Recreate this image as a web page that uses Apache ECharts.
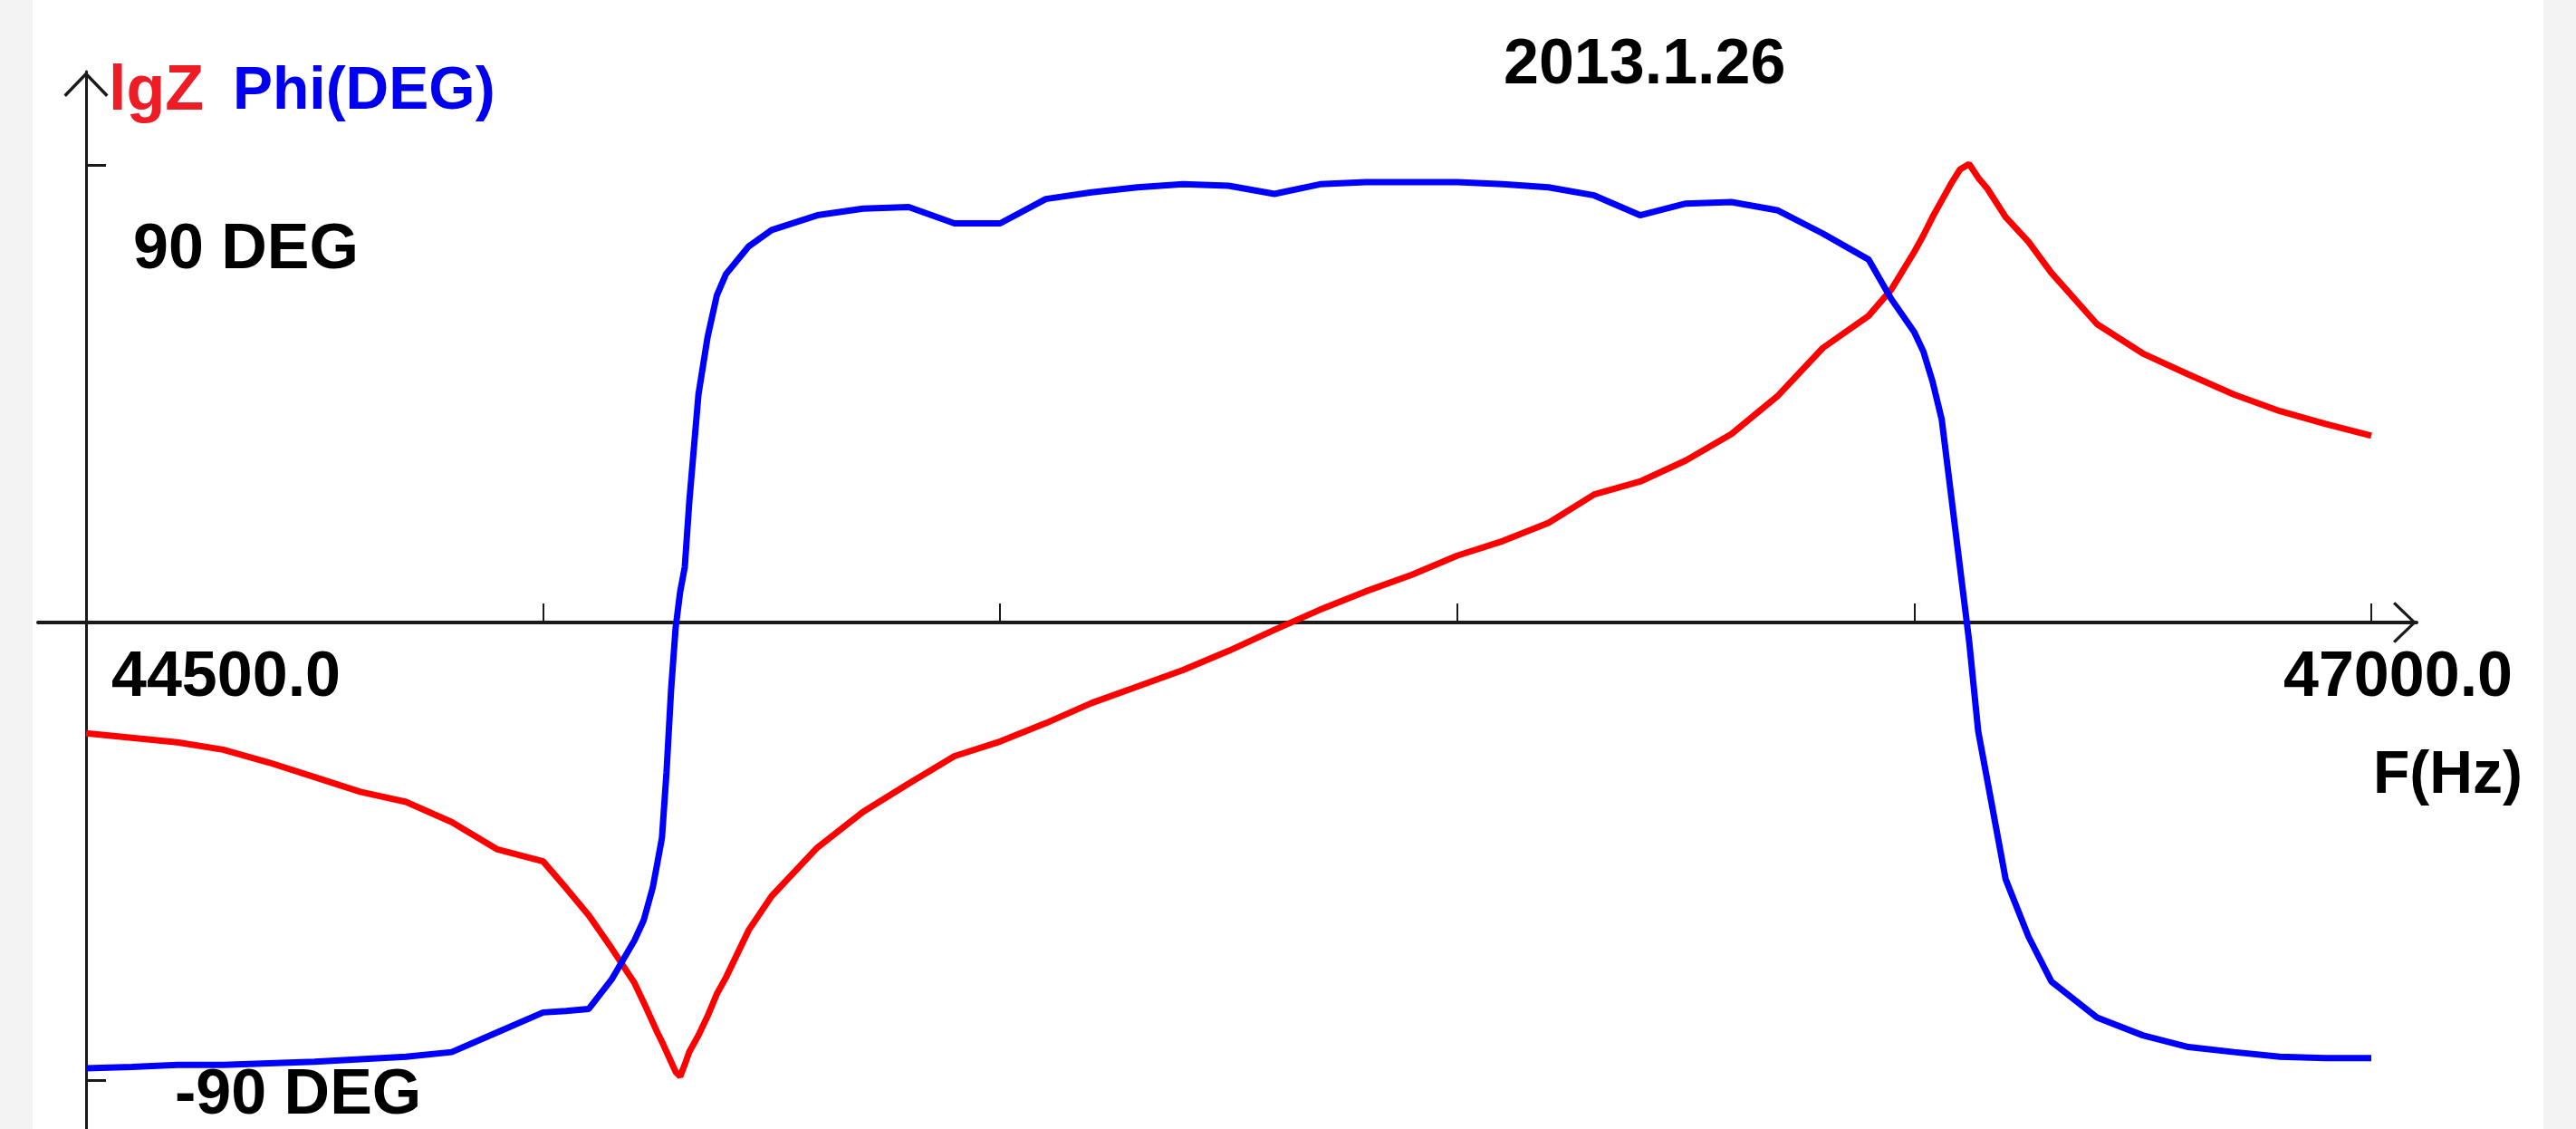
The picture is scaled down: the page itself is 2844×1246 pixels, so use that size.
<!DOCTYPE html>
<html>
<head>
<meta charset="utf-8">
<script src="https://cdn.jsdelivr.net/npm/echarts@6/dist/echarts.min.js"></script>
<style>
html,body{margin:0;padding:0;background:#ffffff;}
#chart{width:2844px;height:1246px;}
</style>
</head>
<body>
<div id="chart"></div>
<script>
// ---------------- data ----------------
const freqHz = [
  44500,44550,44600,44650,44700,44750,44800,44850,44900,44950,
  45000,45025,45050,45075,45100,45110,45120,45125,45130,45135,
  45140,45145,45150,45155,45160,45170,45180,45190,45200,45225,
  45250,45300,45350,45400,45450,45500,45550,45600,45650,45700,
  45750,45800,45850,45900,45950,46000,46050,46100,46150,46200,
  46250,46300,46350,46400,46450,46475,46500,46510,46520,46530,
  46540,46550,46560,46570,46580,46600,46625,46650,46700,46750,
  46800,46850,46900,46950,47000
];
// phase in degrees (blue)
const phiDeg = [
  -87.7,-87.4,-87.0,-87.0,-86.7,-86.4,-85.9,-85.4,-84.5,-80.6,
  -76.7,-76.4,-76.0,-70.2,-62.5,-58.6,-52.1,-47.3,-42.4,-29.5,
  -13.3,-1.0,6.1,10.9,23.9,44.9,56.2,64.3,68.5,74.0,
  77.2,80.1,81.4,81.7,78.5,78.5,83.3,84.6,85.6,86.2,
  85.9,84.3,86.2,86.6,86.6,86.6,86.2,85.6,84.0,80.1,
  82.4,82.7,81.1,76.5,71.4,63.6,57.1,53.3,47.4,40.0,
  25.5,10.9,-3.6,-21.4,-31.1,-50.5,-61.8,-70.6,-77.7,-81.2,
  -83.5,-84.5,-85.4,-85.7,-85.7
];
// lgZ, relative scale: 0 = level of the -90 DEG tick, 100 = level of the 90 DEG tick (red)
const lgZRel = [
  37.9,37.4,36.9,36.1,34.7,33.1,31.5,30.4,28.2,25.2,
  23.9,21.0,18.0,14.4,10.6,8.5,6.3,5.2,4.2,3.1,
  2.0,0.9,0.4,1.7,3.1,4.9,7.0,9.4,11.2,16.4,
  20.1,25.4,29.3,32.4,35.4,37.0,39.0,41.2,43.0,44.8,
  46.9,49.2,51.4,53.4,55.2,57.3,58.9,60.9,64.0,65.4,
  67.7,70.6,74.7,80.0,83.5,86.4,90.5,92.3,94.3,96.1,
  97.9,99.5,100.1,98.6,97.4,94.3,91.6,88.2,82.6,79.4,
  77.1,74.9,73.1,71.7,70.4
];
const xTickValues = [44500,45000,45500,46000,46500,47000];
const xLabelValues = [44500,47000];
const yTickValues = [-90,90];
const yLabelValues = [90,-90];
const dateText = '2013.1.26';
const xName = 'F(Hz)';

// ---------------- layout ----------------
const FONT = '"Liberation Sans", Arial, sans-serif';
const W = 2844, H = 1246;
const X_LEFT = 42, X_RIGHT = 2668;      // extent of the horizontal axis line
const Y_TOP = 79, Y_BOTTOM = 1246;      // extent of the vertical axis line
const TX0 = 95, TX1 = 2618;             // pixel of first / last frequency tick
const TY90 = 182, TYM90 = 1192;         // pixel of 90 / -90 ticks
const Y_ZERO = (TY90 + TYM90) / 2;      // pixel of the 0 DEG level (frequency axis)
const F0 = xTickValues[0], F1 = xTickValues[xTickValues.length - 1];
const pxPerHz = (TX1 - TX0) / (F1 - F0);
const pxPerDeg = (TYM90 - TY90) / 180;
const xMin = F0 - (TX0 - X_LEFT) / pxPerHz;
const xMax = F1 + (X_RIGHT - TX1) / pxPerHz;
const yMax = 90 + (TY90 - Y_TOP) / pxPerDeg;
const yMin = -90 - (Y_BOTTOM - TYM90) / pxPerDeg;
const relMin = (yMin + 90) / 1.8, relMax = (yMax + 90) / 1.8;

const chevron = 'path://M25,0 L50,26 L47.5,28.5 L25,5 L2.5,28.5 L0,26 Z';
const txt = (size, color) => ({fontSize: size, fontWeight: 'bold', fontFamily: FONT, color: color || '#000'});

const phiData = freqHz.map((f, i) => [f, phiDeg[i]]);
const lgzData = freqHz.map((f, i) => [f, lgZRel[i]]);

const chart = echarts.init(document.getElementById('chart'), null, {renderer: 'canvas'});
chart.setOption({
  animation: false,
  backgroundColor: '#ffffff',
  title: {
    text: dateText, left: 1660, top: 38, padding: 0,
    textStyle: txt(70)
  },
  graphic: [
    {type: 'rect', left: 0, top: 0, silent: true, z: -10,
     shape: {width: 36, height: H}, style: {fill: '#f3f3f3'}},
    {type: 'rect', right: 0, top: 0, silent: true, z: -10,
     shape: {width: 36, height: H}, style: {fill: '#f3f3f3'}}
  ],
  grid: [
    // data grid: full extent of the vertical axis line
    {left: X_LEFT, right: W - X_RIGHT, top: Y_TOP, bottom: H - Y_BOTTOM,
     containLabel: false, outerBoundsMode: 'none'},
    // frequency axis grid: its bottom edge is the 0 DEG level
    {left: X_LEFT, right: W - X_RIGHT, top: Y_TOP, bottom: H - Y_ZERO,
     containLabel: false, outerBoundsMode: 'none'}
  ],
  xAxis: [{
    gridIndex: 0, type: 'value', min: xMin, max: xMax, show: false, splitLine: {show: false}
  }, {
    gridIndex: 1, type: 'value', min: xMin, max: xMax, position: 'bottom',
    name: xName, nameLocation: 'end', nameGap: -48,
    nameTextStyle: Object.assign(txt(66), {align: 'left', verticalAlign: 'top', padding: [137, 0, 0, 0]}),
    axisLine: {onZero: false, lineStyle: {color: '#1a1a1a', width: 4},
               symbol: ['none', chevron], symbolSize: [50, 26], symbolOffset: [0, -13]},
    axisTick: {show: true, inside: true, length: 21, customValues: xTickValues,
               lineStyle: {color: '#1a1a1a', width: 2}},
    axisLabel: {
      show: true, margin: 27, customValues: xLabelValues,
      formatter: v => (v === xLabelValues[0] ? '{a|' : '{b|') + v.toFixed(1) + '}',
      rich: {
        a: Object.assign(txt(70), {padding: [0, 0, 0, 309]}),
        b: Object.assign(txt(70), {padding: [0, 0, 0, 59]})
      }
    },
    splitLine: {show: false}
  }],
  yAxis: [{
    gridIndex: 0, type: 'value', min: yMin, max: yMax, offset: -(TX0 - X_LEFT),
    name: '{r|lgZ}{b|Phi(DEG)}', nameLocation: 'end', nameGap: -23,
    nameTextStyle: {align: 'left', verticalAlign: 'middle', padding: [0, 0, 0, 25],
      rich: {
        r: txt(70, '#ee1c25'),
        b: Object.assign(txt(66, '#0000ee'), {padding: [0, 0, 0, 32]})
      }},
    axisLine: {show: true, onZero: false, lineStyle: {color: '#1a1a1a', width: 3},
               symbol: ['none', chevron], symbolSize: [50, 28], symbolOffset: [0, -14]},
    axisTick: {show: true, inside: true, length: 22, customValues: yTickValues,
               lineStyle: {color: '#1a1a1a', width: 3}},
    axisLabel: {
      show: true, inside: true, margin: 52, customValues: yLabelValues,
      formatter: v => (v > 0 ? '{a|' : '{b|') + v + ' DEG}',
      rich: {
        a: Object.assign(txt(70), {padding: [190, 0, 0, 0]}),
        b: Object.assign(txt(70), {padding: [36, 0, 0, 46]})
      }
    },
    splitLine: {show: false}
  }, {
    gridIndex: 0, type: 'value', min: relMin, max: relMax, show: false, splitLine: {show: false}
  }, {
    gridIndex: 1, type: 'value', min: 0, max: 1, show: false, splitLine: {show: false}
  }],
  series: [
    {name: 'lgZ', type: 'line', xAxisIndex: 0, yAxisIndex: 1, data: lgzData, showSymbol: false,
     lineStyle: {color: '#ff0000', width: 7}, itemStyle: {color: '#ff0000'}, z: 3},
    {name: 'Phi(DEG)', type: 'line', xAxisIndex: 0, yAxisIndex: 0, data: phiData, showSymbol: false,
     lineStyle: {color: '#0000ff', width: 7}, itemStyle: {color: '#0000ff'}, z: 4}
  ]
});
</script>
</body>
</html>
